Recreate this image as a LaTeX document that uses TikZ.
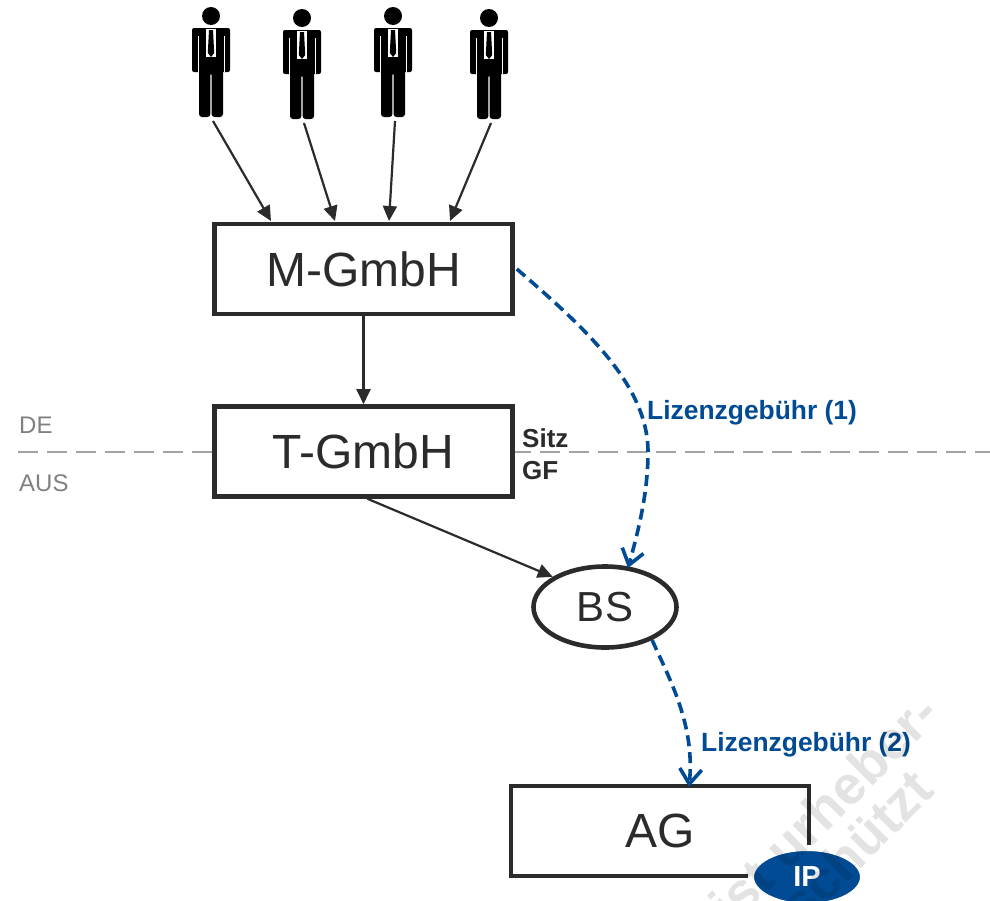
\documentclass[tikz,border=0pt]{standalone}
\usepackage{fontspec}
\setmainfont{Liberation Sans}
\usepackage{tikz}
\usetikzlibrary{shapes, calc, arrows.meta}

\definecolor{lizenzblue}{HTML}{004B93}
\definecolor{boxblack}{HTML}{2B2B2B}

\tikzset{
	company/.style={draw=boxblack, fill=white, rectangle, line width=4.6pt, minimum width=298pt, minimum height=90pt, text=boxblack, font=\fontsize{48}{48}\selectfont},
	holding/.style={-{Triangle[length=15pt, width=14pt]}, draw=boxblack, line width=2.2pt},
	licence/.style={draw=lizenzblue, line width=3.6pt, dash pattern=on 11pt off 6pt, -{Straight Barb[length=15pt, width=22pt, line width=3.6pt]}},
	licencetext/.style={text=lizenzblue, font=\fontsize{26.4}{26.4}\selectfont\bfseries, anchor=west, inner sep=0pt},
	small/.style={text=boxblack, font=\fontsize{26}{26}\selectfont\bfseries, anchor=west, inner sep=0pt},
	country/.style={text=black!50, font=\fontsize{24}{24}\selectfont, anchor=west, inner sep=0pt},
	stamp/.style={text=black, opacity=0.11, font=\fontsize{54}{54}\selectfont\bfseries, rotate=45, anchor=east, inner sep=0pt},
	person/.pic={
		\fill (0,-12) circle (9);
		\fill[rounded corners=2] (-19,0) rectangle (19,44);
		\fill[white] (-13.4,8) rectangle (-12.8,44);
		\fill[white] (12.8,8) rectangle (13.4,44);
		\fill[white] (-5,1) -- (5,1) -- (5,30) -- (-5,30) -- cycle;
		\fill (-2,2) -- (2,2) -- (3.2,25) -- (0,29) -- (-3.2,25) -- cycle;
		\fill[rounded corners=3] (-12,29) -- (12,29) -- (12,89) -- (0.6,89) -- (0.6,44) -- (-0.6,44) -- (-0.6,89) -- (-12,89) -- cycle;
	}
}

\begin{document}
\begin{tikzpicture}[x=1pt, y=-1pt]
	\useasboundingbox (0,0) rectangle (990,900);
	\clip (0,0) rectangle (990,900);

	\coordinate (borderleft)  at (18,452);
	\coordinate (borderright) at (990,452);
	\draw[black!36, line width=1.6pt, dash pattern=on 20pt off 9pt] (borderleft) -- (borderright);

	\node[country] (de)  at (19,425) {DE};
	\node[country] (aus) at (19,483) {AUS};

	% shareholders
	\foreach \x/\y/\name in {211/28/one, 302/30/two, 393/28/three, 489/30/four} {
		\pic at (\x,\y) {person};
		\coordinate (\name) at (\x+2,\y+93);
	}

	\node[company] (mgmbh) at (363.5,269) {M-GmbH};
	\node[company] (tgmbh) at (363.5,451.5) {T-GmbH};
	\node[company] (ag)    at (660,831) {AG};

	\node[draw=boxblack, fill=white, ellipse, line width=4.6pt, minimum width=143pt, minimum height=81pt, text=boxblack, font=\fontsize{42}{42}\selectfont] (bs) at (605,607) {BS};
	\node[draw=white, fill=lizenzblue, ellipse, line width=6pt, minimum width=112pt, minimum height=58pt, text=white, font=\fontsize{29}{29}\selectfont\bfseries] (ip) at (807,877) {IP};

	\node[small] (sitz) at (522,438) {Sitz};
	\node[small] (gf)   at (522,471) {GF};

	\coordinate (mone)   at (271,221);
	\coordinate (mtwo)   at (335,221);
	\coordinate (mthree) at (389,221);
	\coordinate (mfour)  at (450,221);
	\draw[holding] (one)   -- (mone);
	\draw[holding] (two)   -- (mtwo);
	\draw[holding] (three) -- (mthree);
	\draw[holding] (four)  -- (mfour);

	\draw[holding] (mgmbh.south) -- (tgmbh.north);
	\draw[holding] ($(tgmbh.south)+(4,0)$) -- (bs.150);

	\draw[licence] (mgmbh.east) ++(2,0) .. controls (585,328) and (648,385) .. (648,452) .. controls (648,490) and (640,525) .. (628,568);
	\draw[licence] (bs.-35) .. controls (670,680) and (695,725) .. (689,787);

	\node[licencetext] (lizenzone) at (647,413) {Lizenzgebühr (1)};
	\node[licencetext] (lizenztwo) at (701,745) {Lizenzgebühr (2)};

	\node[stamp] (stampone) at (929,703) {ist urheber-};
	\node[stamp] (stamptwo) at (927,783) {geschützt};
\end{tikzpicture}
\end{document}
